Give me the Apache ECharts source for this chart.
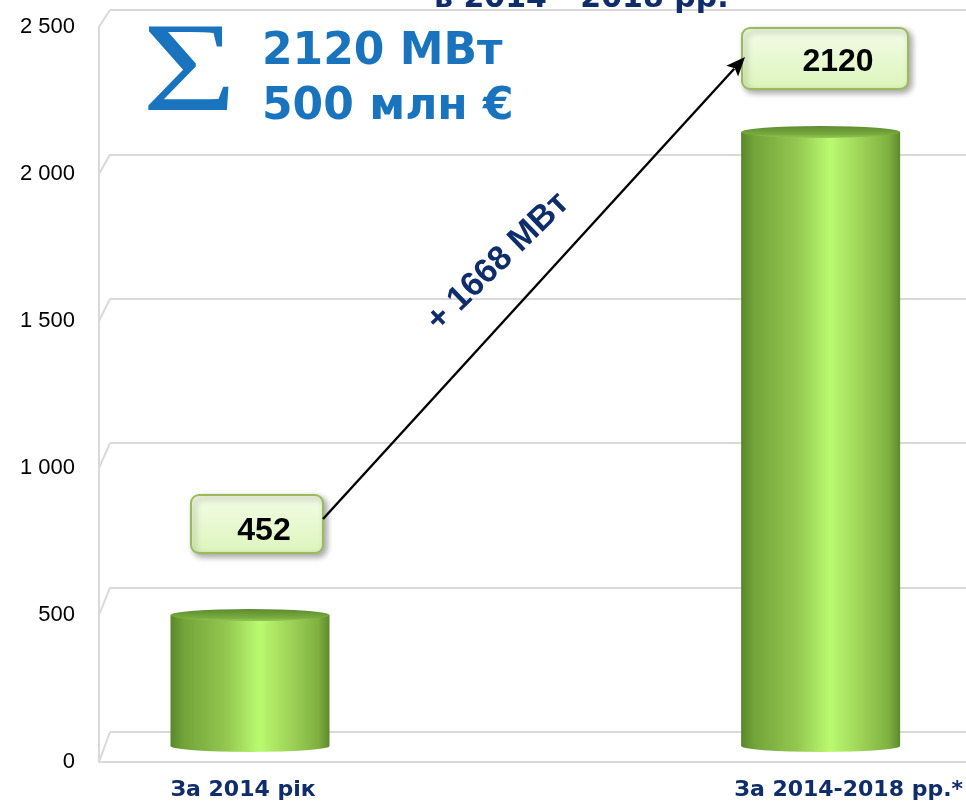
<!DOCTYPE html>
<html>
<head>
<meta charset="utf-8">
<script src="https://cdn.jsdelivr.net/npm/echarts@6/dist/echarts.min.js"></script>
<style>
html,body{margin:0;padding:0;background:#fff;}
#main{width:966px;height:804px;}
</style>
</head>
<body>
<div id="main"></div>
<script>
// дані
var categories = ['За 2014 рік', 'За 2014-2018 рр.*'];
var capacity = [452, 2120];
var yTicks = [0, 500, 1000, 1500, 2000, 2500];
var yTickLabels = ['0', '500', '1 000', '1 500', '2 000', '2 500'];
var totalLines = ['2120 МВт', '500 млн €'];
var titleTail = 'в 2014 - 2018 рр.';

var navy = '#0f2c6b';
var blue = '#1a74bd';
var gridColor = '#d9d9d9';

// задня стінка / передній край / стовпці
var gridBack = {left: 110, right: 0, top: 10, bottom: 72};
var gridFront = {left: 99, right: 0, top: 27, bottom: 42};
var gridBars = {left: 250, right: 140, top: 22, bottom: 58};

// стрілка між підписами
var arrowFrom = [323, 519];
var arrowTo = [745, 57];

var sideColor = new echarts.graphic.LinearGradient(0, 0, 1, 0, [
	{offset: 0, color: '#5a862a'},
	{offset: 0.08, color: '#72a339'},
	{offset: 0.35, color: '#93c750'},
	{offset: 0.56, color: '#bafa70'},
	{offset: 0.72, color: '#a3da5b'},
	{offset: 0.93, color: '#7fb040'},
	{offset: 1, color: '#5c8a2c'}
]);
var topColor = new echarts.graphic.LinearGradient(0, 0, 0, 1, [
	{offset: 0, color: '#5d8a30'},
	{offset: 0.7, color: '#78ab3e'},
	{offset: 1, color: '#92c853'}
]);
var boxFill = new echarts.graphic.LinearGradient(0, 0, 0, 1, [
	{offset: 0, color: '#f4fce8'},
	{offset: 1, color: '#dcf5bb'}
]);

var myChart = echarts.init(document.getElementById('main'));

myChart.setOption({
	animation: false,
	grid: [gridBack, gridFront, gridBars],
	xAxis: [
		{gridIndex: 0, type: 'category', data: categories, show: false},
		{
			gridIndex: 1, type: 'category', data: categories,
			axisLine: {lineStyle: {color: gridColor, width: 2}},
			axisTick: {show: false},
			axisLabel: {show: false}
		},
		{
			gridIndex: 2, type: 'category', data: categories, boundaryGap: false,
			axisLine: {show: false},
			axisTick: {show: false},
			axisLabel: {
				margin: 33,
				formatter: function (v, i) {
					return (i === 0 ? '{a|' : '{b|') + v + '}';
				},
				rich: {
					a: {fontFamily: 'DejaVu Sans', fontWeight: 'bold', fontSize: 22, color: navy, padding: [0, 14, 0, 0]},
					b: {fontFamily: 'DejaVu Sans', fontWeight: 'bold', fontSize: 22, color: navy, padding: [0, 0, 0, 56]}
				}
			}
		}
	],
	yAxis: [
		{
			gridIndex: 0, type: 'value', min: 0, max: 2500, interval: 500,
			axisLabel: {show: false},
			axisLine: {show: false},
			axisTick: {show: false},
			splitLine: {lineStyle: {color: gridColor, width: 2}}
		},
		{
			gridIndex: 1, type: 'value', min: 0, max: 2500, interval: 500,
			axisLabel: {
				fontFamily: 'Liberation Sans', fontSize: 22, color: '#000', margin: 24,
				formatter: function (v) {
					return yTickLabels[yTicks.indexOf(v)];
				}
			},
			axisLine: {show: true, lineStyle: {color: gridColor, width: 2}},
			axisTick: {show: false},
			splitLine: {show: false}
		},
		{gridIndex: 2, type: 'value', min: 0, max: 2500, show: false}
	],
	series: [
		{
			type: 'pictorialBar', xAxisIndex: 2, yAxisIndex: 2,
			data: capacity, clip: false,
			symbol: 'circle', symbolSize: [159, 12],
			symbolPosition: 'start', symbolOffset: [0, '50%'],
			itemStyle: {color: sideColor}, z: 2
		},
		{
			type: 'bar', xAxisIndex: 2, yAxisIndex: 2,
			data: capacity, barWidth: 159, clip: false,
			itemStyle: {color: sideColor}, z: 3
		},
		{
			type: 'pictorialBar', xAxisIndex: 2, yAxisIndex: 2,
			data: capacity, clip: false,
			symbol: 'circle', symbolSize: [159, 12],
			symbolPosition: 'end', symbolOffset: [0, '-50%'],
			itemStyle: {color: topColor}, z: 4
		}
	]
});

// скісні з'єднання передньої та задньої стінки
var graphics = yTicks.map(function (v) {
	var yf = myChart.convertToPixel({yAxisIndex: 1}, v);
	var yb = myChart.convertToPixel({yAxisIndex: 0}, v);
	return {
		type: 'line', silent: true,
		shape: {x1: gridFront.left, y1: yf, x2: gridBack.left, y2: yb},
		style: {stroke: gridColor, lineWidth: 2}
	};
});

function txt(x, y, s, font, color, align, valign, rot) {
	return {
		type: 'text', x: x, y: y, rotation: rot || 0, silent: true, z: 10,
		style: {
			text: s, font: font, fill: color,
			align: align, verticalAlign: valign,
			textAlign: align, textVerticalAlign: valign
		}
	};
}

function box(x, y, w, h) {
	return {
		type: 'rect', silent: true, z: 9,
		shape: {x: x, y: y, width: w, height: h, r: 8},
		style: {
			fill: boxFill, stroke: '#9bbb59', lineWidth: 2,
			shadowBlur: 6, shadowOffsetX: 3, shadowOffsetY: 3, shadowColor: 'rgba(0,0,0,0.35)'
		}
	};
}

graphics.push(txt(434, 14, titleTail, 'bold 30px "DejaVu Sans"', navy, 'left', 'bottom'));
var sigma = txt(142, 76, 'Σ', '128px "Liberation Serif"', blue, 'left', 'middle');
sigma.scaleX = 1.27;
graphics.push(sigma);
graphics.push(txt(262, 53, totalLines[0], 'bold 44px "DejaVu Sans"', blue, 'left', 'middle'));
graphics.push(txt(262, 108, totalLines[1], 'bold 44px "DejaVu Sans"', blue, 'left', 'middle'));

graphics.push(box(191, 495, 132, 58));
graphics.push(txt(264, 531, String(capacity[0]), 'bold 32px "Liberation Sans"', '#000', 'center', 'middle'));
graphics.push(box(742, 28, 166, 61));
graphics.push(txt(838, 62, String(capacity[1]), 'bold 32px "Liberation Sans"', '#000', 'center', 'middle'));

// стрілка: лінія + наконечник
var dx = arrowTo[0] - arrowFrom[0], dy = arrowTo[1] - arrowFrom[1];
var len = Math.sqrt(dx * dx + dy * dy);
var ux = dx / len, uy = dy / len;
var headL = 19, headW = 8;
var bx = arrowTo[0] - ux * headL, by = arrowTo[1] - uy * headL;
graphics.push({
	type: 'line', silent: true, z: 11,
	shape: {x1: arrowFrom[0], y1: arrowFrom[1], x2: bx + ux * 3, y2: by + uy * 3},
	style: {stroke: '#000', lineWidth: 2.4}
});
graphics.push({
	type: 'polygon', silent: true, z: 11,
	shape: {points: [
		[arrowTo[0], arrowTo[1]],
		[bx - uy * headW, by + ux * headW],
		[arrowTo[0] - ux * headL * 0.8, arrowTo[1] - uy * headL * 0.8],
		[bx + uy * headW, by - ux * headW]
	]},
	style: {fill: '#000'}
});

graphics.push(txt(498, 262, '+ ' + (capacity[1] - capacity[0]) + ' МВт',
	'bold 34px "Liberation Sans"', navy, 'center', 'middle', 0.77));

myChart.setOption({graphic: graphics});
</script>
</body>
</html>
